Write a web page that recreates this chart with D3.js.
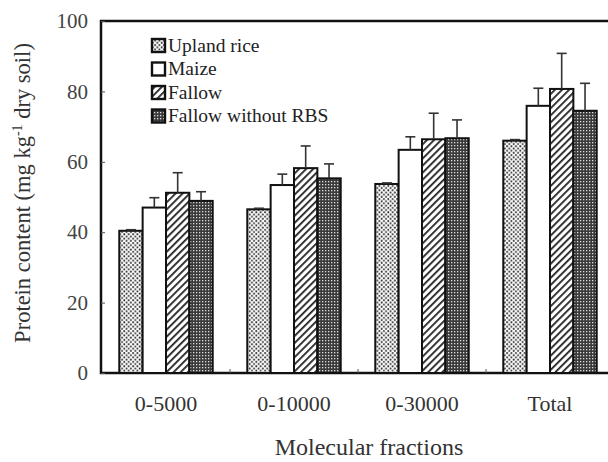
<!DOCTYPE html>
<html><head><meta charset="utf-8">
<script src="https://cdn.jsdelivr.net/npm/d3@7"></script>
<style>body{margin:0;background:#fff}svg{display:block}</style>
</head><body>
<svg id="c" width="608" height="462"></svg>
<script>
const categories = ["0-5000", "0-10000", "0-30000", "Total"];
const seriesNames = ["Upland rice", "Maize", "Fallow", "Fallow without RBS"];
const uplandRice = [40.4, 46.5, 53.7, 66.0];
const maize = [47.0, 53.4, 63.4, 75.9];
const fallow = [51.2, 58.2, 66.4, 80.7];
const fallowNoRBS = [48.9, 55.3, 66.7, 74.5];
const errUplandRice = [0.3, 0.3, 0.3, 0.3];
const errMaize = [2.8, 3.1, 3.7, 5.0];
const errFallow = [5.7, 6.3, 7.4, 10.1];
const errFallowNoRBS = [2.6, 4.1, 5.2, 7.8];
const yTicks = [0, 20, 40, 60, 80, 100];

const series = [uplandRice, maize, fallow, fallowNoRBS];
const errs = [errUplandRice, errMaize, errFallow, errFallowNoRBS];
const fills = ["url(#pDots)", "#fff", "url(#pHatch)", "url(#pGrid)"];

const svg = d3.select("#c");
const font = "'Liberation Serif','DejaVu Serif',serif";
const m = {l: 101, t: 21, b: 373, r: 614};

const defs = svg.append("defs");
const p1 = defs.append("pattern").attr("id","pDots").attr("patternUnits","userSpaceOnUse").attr("width",4.4).attr("height",4.4);
p1.append("rect").attr("width",4.4).attr("height",4.4).attr("fill","#fff");
p1.append("circle").attr("cx",1.1).attr("cy",1.1).attr("r",1.0).attr("fill","#333");
p1.append("circle").attr("cx",3.3).attr("cy",3.3).attr("r",1.0).attr("fill","#333");
const p2 = defs.append("pattern").attr("id","pHatch").attr("patternUnits","userSpaceOnUse").attr("width",5).attr("height",5).attr("patternTransform","rotate(45)");
p2.append("rect").attr("width",5).attr("height",5).attr("fill","#fff");
p2.append("rect").attr("x",0).attr("y",0).attr("width",1.8).attr("height",5).attr("fill","#222");
const p3 = defs.append("pattern").attr("id","pGrid").attr("patternUnits","userSpaceOnUse").attr("width",3).attr("height",3);
p3.append("rect").attr("width",3).attr("height",3).attr("fill","#3a3a3a");
p3.append("rect").attr("x",1).attr("y",1).attr("width",1.3).attr("height",1.3).attr("fill","#ddd");

const x = d3.scaleBand().domain(categories).range([m.l+1, m.r]).paddingInner(0.27).paddingOuter(0.135);
const xs = d3.scaleBand().domain(d3.range(4)).range([0, x.bandwidth()]);
const y = d3.scaleLinear().domain([0, 100]).range([m.b, m.t]);

svg.append("rect").attr("x",m.l).attr("y",m.t).attr("width",m.r-m.l).attr("height",m.b-m.t)
  .attr("fill","none").attr("stroke","#111").attr("stroke-width",2.5);

const g = svg.append("g");
categories.forEach((c, i) => {
  series.forEach((s, k) => {
    const bx = x(c) + xs(k);
    g.append("rect").attr("x", bx).attr("y", y(s[i])).attr("width", xs.bandwidth()).attr("height", y(0)-y(s[i]))
      .attr("fill", fills[k]).attr("stroke","#111").attr("stroke-width",2);
    const cx = bx + xs.bandwidth()/2, top = y(s[i]+errs[k][i]);
    g.append("line").attr("x1",cx).attr("x2",cx).attr("y1",y(s[i])).attr("y2",top).attr("stroke","#333").attr("stroke-width",1.6);
    g.append("line").attr("x1",cx-5).attr("x2",cx+5).attr("y1",top).attr("y2",top).attr("stroke","#333").attr("stroke-width",1.6);
  });
});

const yAxis = svg.append("g").attr("transform",`translate(${m.l},0)`)
  .call(d3.axisLeft(y).tickValues(yTicks).tickSize(-4).tickPadding(13));
yAxis.select(".domain").remove();
yAxis.selectAll("line").attr("stroke","#555");
yAxis.selectAll("text").attr("font-family",font).attr("font-size",21).attr("fill","#444");

const xAxis = svg.append("g").attr("transform",`translate(0,${m.b})`)
  .call(d3.axisBottom(x).tickSize(0).tickPadding(22));
xAxis.select(".domain").remove();
xAxis.selectAll("text").attr("font-family",font).attr("font-size",22).attr("fill","#333");
const sep = categories.slice(1).map(c => x(c) - x.step()*x.paddingInner()/2);
svg.selectAll(".sep").data(sep).join("line").attr("x1",d=>d).attr("x2",d=>d).attr("y1",m.b).attr("y2",m.b-4).attr("stroke","#555");

svg.append("text").attr("x",369).attr("y",455).attr("text-anchor","middle")
  .attr("font-family",font).attr("font-size",24).attr("fill","#333").text("Molecular fractions");
const yt = svg.append("text").attr("transform","translate(30,193) rotate(-90)").attr("text-anchor","middle")
  .attr("font-family",font).attr("font-size",22.5).attr("fill","#333");
yt.append("tspan").text("Protein content (mg kg");
yt.append("tspan").attr("dy",-8).attr("font-size",14).text("-1");
yt.append("tspan").attr("dy",8).text(" dry soil)");

const lg = svg.append("g");
seriesNames.forEach((n, k) => {
  const ly = 45 + k*23.5;
  lg.append("rect").attr("x",152).attr("y",ly-6).attr("width",13).attr("height",13)
    .attr("fill",fills[k]).attr("stroke","#111").attr("stroke-width",2.4);
  lg.append("text").attr("x",168).attr("y",ly+6.5).attr("font-family",font).attr("font-size",19.5).attr("fill","#222").text(n);
});
</script>
</body></html>
